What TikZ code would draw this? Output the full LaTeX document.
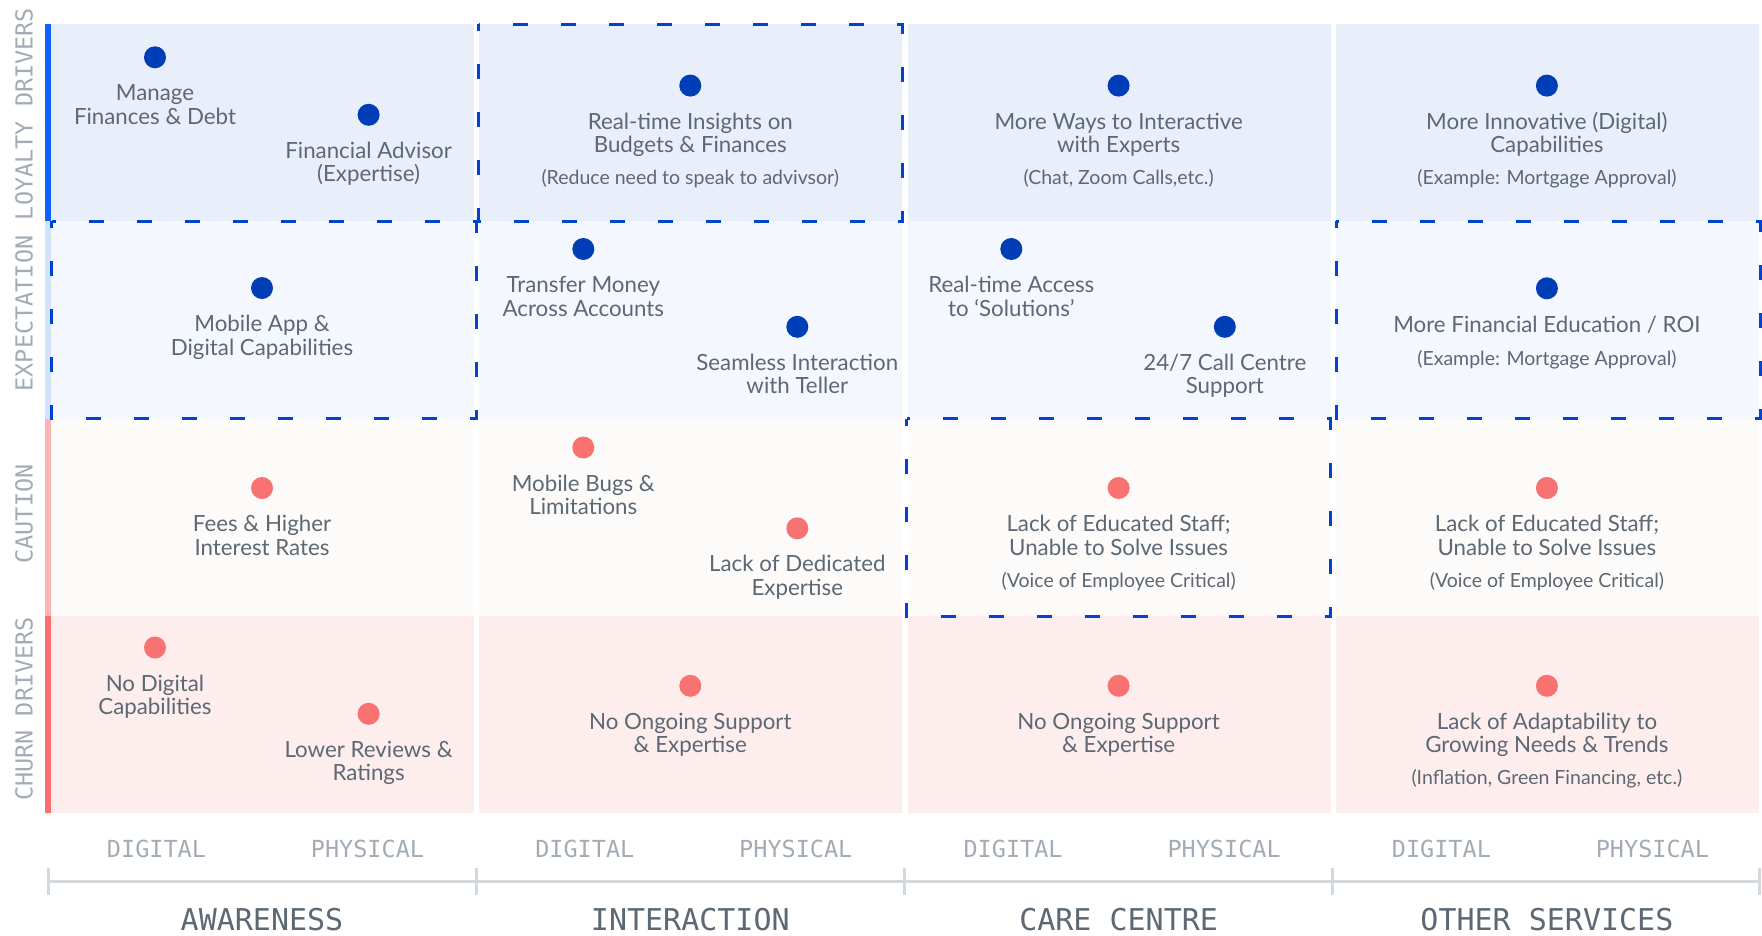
\documentclass[tikz,border=0pt]{standalone}
\usepackage{fontspec}
\setmainfont{Lato}
\setmonofont{DejaVu Sans Mono}
\definecolor{rowA}{HTML}{E8EEFA}
\definecolor{rowB}{HTML}{F4F7FD}
\definecolor{rowC}{HTML}{FDFBFA}
\definecolor{rowD}{HTML}{FEEDED}
\definecolor{barA}{HTML}{0F62FE}
\definecolor{barB}{HTML}{D0E2FF}
\definecolor{barC}{HTML}{FFB3B5}
\definecolor{barD}{HTML}{FA6E6E}
\definecolor{dotB}{HTML}{003EB8}
\definecolor{dotR}{HTML}{F87272}
\definecolor{dashc}{HTML}{0043CE}
\definecolor{txt}{HTML}{5C6873}
\definecolor{axs}{HTML}{A3ACB5}
\definecolor{axb}{HTML}{5C6873}
\definecolor{axl}{HTML}{D3D8DD}
\tikzset{
  bdot/.style={circle, fill=dotB, minimum size=22pt, inner sep=0pt},
  rdot/.style={circle, fill=dotR, minimum size=22pt, inner sep=0pt},
  lab/.style={anchor=base, inner sep=0pt, text=txt, font=\fontsize{22.3}{23}\selectfont},
  sublab/.style={anchor=base, inner sep=0pt, text=txt, font=\fontsize{19.5}{20}\selectfont},
  dbox/.style={draw=dashc, line width=3pt, dash pattern=on 15pt off 33pt, dash phase=8pt},
  rowlab/.style={anchor=base, inner sep=0pt, rotate=90, text=axs, font=\fontsize{23.5}{24}\ttfamily},
  axlab/.style={anchor=base, inner sep=0pt, text=axs, font=\fontsize{23.5}{24}\ttfamily},
  axbig/.style={anchor=base, inner sep=0pt, text=axb, font=\fontsize{30}{30}\ttfamily},
  axline/.style={draw=axl, line width=3pt},
}
% name, dot style, x, y, line1, line2
\newcommand\mktwo[6]{%
  \node[#2] (#1) at (#3,#4) {};
  \node[lab] (#1-a) at (#3,#4+43.5) {#5};
  \node[lab] (#1-b) at (#3,#4+67) {#6};
}
\begin{document}
\begin{tikzpicture}[x=1pt,y=-1pt]
\useasboundingbox[fill=white] (0,0) rectangle (1762,935);
% backgrounds
\foreach \cx in {51,479.3,907.6,1335.9}{
  \fill[rowA] (\cx,24) rectangle ++(423,197);
  \fill[rowB] (\cx,221) rectangle ++(423,197.5);
  \fill[rowC] (\cx,418.5) rectangle ++(423,197.5);
  \fill[rowD] (\cx,616) rectangle ++(423,197);
}
% left bars
\fill[barA] (45,24) rectangle (51,221);
\fill[barB] (45,221) rectangle (51,418.5);
\fill[barC] (45,418.5) rectangle (51,616);
\fill[barD] (45,616) rectangle (51,813);
% row labels
\node[rowlab] (rl1) at (32.5,114) {LOYALTY DRIVERS};
\node[rowlab] (rl2) at (32.5,313.5) {EXPECTATION};
\node[rowlab] (rl3) at (32.5,514) {CAUTION};
\node[rowlab] (rl4) at (32.5,709) {CHURN DRIVERS};
% dashed boxes
\draw[dbox] (478.5,24) rectangle (902,221);
\draw[dbox] (51.5,221) rectangle (476,418.5);
\draw[dbox] (1336,221) rectangle (1760,418.5);
\draw[dbox] (906.5,418.5) rectangle (1330.5,616);
% row 1
\mktwo{a1}{bdot}{155}{57.3}{Manage}{Finances \& Debt}
\mktwo{a2}{bdot}{368.6}{114.8}{Financial Advisor}{(Expertise)}
\mktwo{b1}{bdot}{690.3}{85.6}{Real-time Insights on}{Budgets \& Finances}
\node[sublab] (b1-s) at (690.3,184.7) {(Reduce need to speak to advivsor)};
\mktwo{c1}{bdot}{1118.6}{85.6}{More Ways to Interactive}{with Experts}
\node[sublab] (c1-s) at (1118.6,184.7) {(Chat, Zoom Calls,etc.)};
\mktwo{d1}{bdot}{1546.9}{85.6}{More Innovative (Digital)}{Capabilities}
\node[sublab] (d1-s) at (1546.9,184.7) {(Example: Mortgage Approval)};
% row 2
\mktwo{a3}{bdot}{262}{288}{Mobile App \&}{Digital Capabilities}
\mktwo{b2}{bdot}{583.3}{249}{Transfer Money}{Across Accounts}
\mktwo{b3}{bdot}{797.3}{326.8}{Seamless Interaction}{with Teller}
\mktwo{c2}{bdot}{1011.3}{249}{Real-time Access}{to ‘Solutions’}
\mktwo{c3}{bdot}{1224.8}{326.8}{24/7 Call Centre}{Support}
\node[bdot] (d2) at (1546.9,288.3) {};
\node[lab] (d2-a) at (1546.9,332) {More Financial Education / ROI};
\node[sublab] (d2-s) at (1546.9,365.5) {(Example: Mortgage Approval)};
% row 3
\mktwo{a4}{rdot}{262}{488}{Fees \& Higher}{Interest Rates}
\mktwo{b4}{rdot}{583.3}{447.5}{Mobile Bugs \&}{Limitations}
\mktwo{b5}{rdot}{797.3}{528.3}{Lack of Dedicated}{Expertise}
\mktwo{c4}{rdot}{1118.6}{488}{Lack of Educated Staff;}{Unable to Solve Issues}
\node[sublab] (c4-s) at (1118.6,587.1) {(Voice of Employee Critical)};
\mktwo{d4}{rdot}{1546.9}{488}{Lack of Educated Staff;}{Unable to Solve Issues}
\node[sublab] (d4-s) at (1546.9,587.1) {(Voice of Employee Critical)};
% row 4
\mktwo{a5}{rdot}{155}{647.5}{No Digital}{Capabilities}
\mktwo{a6}{rdot}{368.6}{713.8}{Lower Reviews \&}{Ratings}
\mktwo{b6}{rdot}{690.3}{685.8}{No Ongoing Support}{\& Expertise}
\mktwo{c6}{rdot}{1118.6}{685.8}{No Ongoing Support}{\& Expertise}
\mktwo{d6}{rdot}{1546.9}{685.8}{Lack of Adaptability to}{Growing Needs \& Trends}
\node[sublab] (d6-s) at (1546.9,784.9) {(Inflation, Green Financing, etc.)};
% axis
\coordinate (t0) at (48,881);
\coordinate (t1) at (476,881);
\coordinate (t2) at (904,881);
\coordinate (t3) at (1332,881);
\coordinate (t4) at (1759.5,881);
\draw[axline] (t0) -- (t4);
\foreach \t in {t0,t1,t2,t3,t4}{
  \draw[axline] ([yshift=13pt]\t) -- ([yshift=-14pt]\t);
}
\foreach \c/\n in {262/1,690.3/2,1118.6/3,1546.9/4}{
  \node[axlab] (dg\n) at (\c-105.5,857.3) {DIGITAL};
  \node[axlab] (ph\n) at (\c+105.5,857.3) {PHYSICAL};
}
\node[axbig] (s1) at (262,930) {AWARENESS};
\node[axbig] (s2) at (690.3,930) {INTERACTION};
\node[axbig] (s3) at (1118.6,930) {CARE CENTRE};
\node[axbig] (s4) at (1546.9,930) {OTHER SERVICES};
\end{tikzpicture}
\end{document}
